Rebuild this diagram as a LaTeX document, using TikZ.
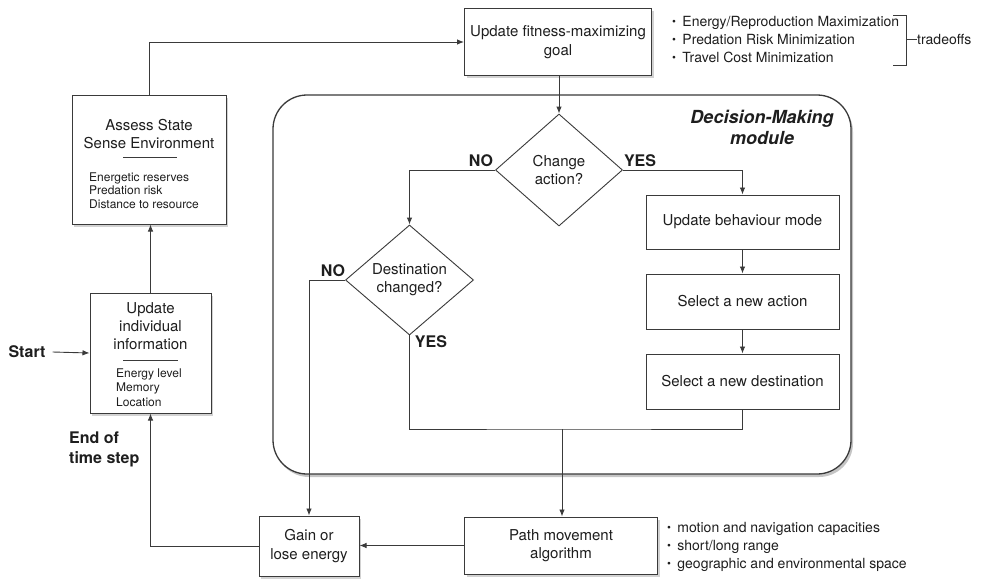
\documentclass[tikz,border=0pt]{standalone}
\usepackage{fontspec}
\setmainfont{TeX Gyre Heros}
\usetikzlibrary{shapes.geometric,arrows.meta,shadows}
\definecolor{ln}{HTML}{3A3A3A}
\definecolor{tx}{HTML}{1E1E1E}
\newcommand\bulit{\raisebox{0.15ex}{\scalebox{0.8}{\textbullet}}\hspace{0.45em}}
\begin{document}
\begin{tikzpicture}[x=1pt,y=-1pt,
  every node/.style={text=tx, inner sep=0pt},
  box/.style={draw=ln, line width=1pt, fill=white, rectangle, font=\fontsize{15}{18.5}\selectfont, align=center},
  shbox/.style={box, drop shadow={opacity=0.35, shadow xshift=2pt, shadow yshift=-2.5pt}},
  dia/.style={draw=ln, line width=0.9pt, diamond, fill=white, font=\fontsize{15}{18}\selectfont, align=center},
  conn/.style={draw=ln, line width=0.9pt},
  arr/.style={conn, -{Latex[length=7pt,width=5.5pt]}},
  lbl/.style={font=\bfseries\fontsize{16}{20}\selectfont, align=left},
  ttl/.style={font=\fontsize{15}{18}\selectfont, align=center},
  small/.style={font=\fontsize{12}{13.5}\selectfont, align=left},
  bul/.style={font=\fontsize{14}{18}\selectfont, align=left}
]
\fill[white] (0,0) rectangle (987,578);
\useasboundingbox (0,0) rectangle (987,578);

% module container
\node[draw=ln, line width=1.3pt, fill=white, rounded corners=34pt,
      minimum width=578pt, minimum height=379pt,
      drop shadow={opacity=0.45, shadow xshift=2pt, shadow yshift=-3pt}] (module) at (562,284.5) {};
\node[font=\bfseries\itshape\fontsize{18}{21}\selectfont, align=center] (modt) at (762,127.5) {Decision-Making\\module};

% top goal box
\node[shbox, minimum width=187pt, minimum height=66pt] (fit) at (558,42) {Update fitness-maximizing\\goal};
\node[bul, anchor=west] (goals) at (672,40) {\bulit Energy/Reproduction Maximization\\\bulit Predation Risk Minimization\\\bulit Travel Cost Minimization};
\coordinate (bra) at (893,15);
\coordinate (brb) at (906,15);
\coordinate (brc) at (906,65);
\coordinate (brd) at (893,65);
\coordinate (brm) at (906,39.5);
\node[font=\fontsize{14}{16}\selectfont, anchor=west] (trade) at (917,39.5) {tradeoffs};
\draw[conn] (bra) -- (brb) -- (brc) -- (brd);
\draw[conn] (brm) -- (trade.west);

% left column
\node[shbox, minimum width=154pt, minimum height=129pt] (assess) at (149,159.5) {};
\node[ttl] (assesst) at (149,134) {Assess State\\Sense Environment};
\draw[conn] (123,157) -- (177,157);
\node[small, anchor=west] (assessi) at (89,190.5) {Energetic reserves\\Predation risk\\Distance to resource};

\node[shbox, minimum width=121pt, minimum height=120pt] (info) at (150.5,353) {};
\node[ttl] (infot) at (150.5,326) {Update\\individual\\information};
\draw[conn] (123,360) -- (178,360);
\node[font=\fontsize{12}{14.5}\selectfont, align=left, anchor=west] (infoi) at (116,387.5) {Energy level\\Memory\\Location};

\node[lbl] (start) at (27,352) {Start};
\node[lbl, anchor=west] (endts) at (69,449) {End of\\time step};

% decision elements
\node[dia, minimum width=127pt, minimum height=112pt] (change) at (559,170) {Change\\action?};
\node[dia, minimum width=128pt, minimum height=110pt] (dest) at (409.5,280) {Destination\\changed?};
\node[lbl] (no1) at (481,161) {NO};
\node[lbl] (yes1) at (640,161) {YES};
\node[lbl] (no2) at (333,271) {NO};
\node[lbl] (yes2) at (431,342) {YES};

\node[box, minimum width=193pt, minimum height=54pt] (ubm) at (742.5,222) {Update behaviour mode};
\node[box, minimum width=193pt, minimum height=55pt] (sna) at (742.5,301.5) {Select a new action};
\node[box, minimum width=193pt, minimum height=55pt] (snd) at (742.5,381.5) {Select a new destination};
\coordinate (merge) at (562,429);

% bottom row
\node[shbox, minimum width=193pt, minimum height=57pt] (path) at (561,545.5) {Path movement\\algorithm};
\node[shbox, minimum width=100pt, minimum height=60pt] (gain) at (309,546) {Gain or\\lose energy};
\node[bul, anchor=west] (caps) at (667,547) {\bulit motion and navigation capacities\\\bulit short/long range\\\bulit geographic and environmental space};

% connectors
\draw[arr] (start.east) ++(7,0) -- (info.west);
\draw[arr] (info.north) -- (info.north |- assess.south);
\draw[arr] (assess.north) |- (fit.west);
\draw[arr] (change.north |- fit.south) -- (change.north);
\draw[arr] (change.west) -| (dest.north);
\draw[arr] (change.east) -| (ubm.north);
\draw[arr] (ubm.south) -- (sna.north);
\draw[arr] (sna.south) -- (snd.north);
\draw[conn] (dest.south) |- (merge) -| (snd.south);
\draw[arr] (merge) -- (merge |- path.north);
\draw[arr] (dest.west) -| (gain.north);
\draw[arr] (path.west) -- (path.west -| gain.east);
\draw[arr] (gain.west) -| (info.south);
\end{tikzpicture}
\end{document}
